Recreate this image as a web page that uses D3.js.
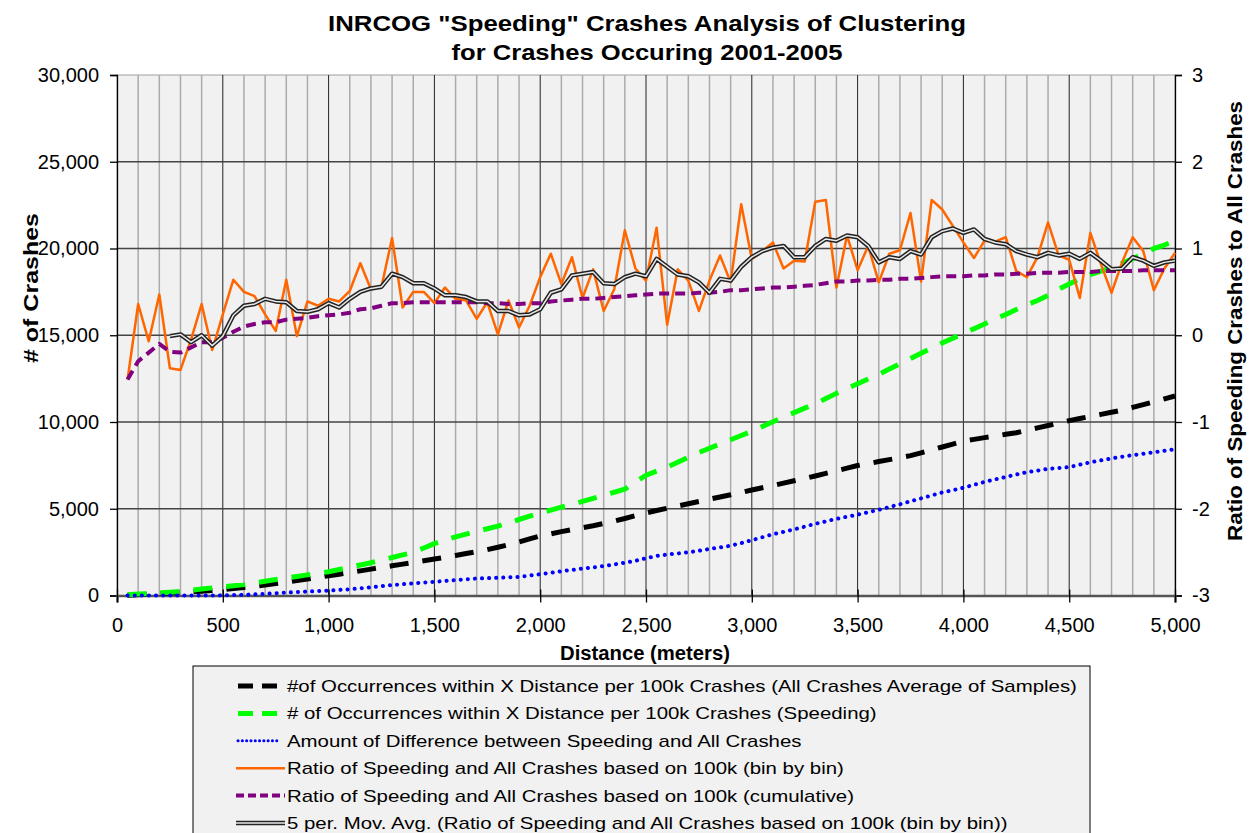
<!DOCTYPE html>
<html>
<head>
<meta charset="utf-8">
<script src="https://cdn.jsdelivr.net/npm/d3@7"></script>
<style>
  body{margin:0;background:#fff;}
  svg{display:block;font-family:"Liberation Sans",Arial,sans-serif;}
</style>
</head>
<body>
<svg id="chart" width="1250" height="833"></svg>
<script>
const distance=[50,100,150,200,250,300,350,400,450,500,550,600,650,700,750,800,850,900,950,1000,
1050,1100,1150,1200,1250,1300,1350,1400,1450,1500,1550,1600,1650,1700,1750,1800,1850,1900,1950,2000,
2050,2100,2150,2200,2250,2300,2350,2400,2450,2500,2550,2600,2650,2700,2750,2800,2850,2900,2950,3000,
3050,3100,3150,3200,3250,3300,3350,3400,3450,3500,3550,3600,3650,3700,3750,3800,3850,3900,3950,4000,
4050,4100,4150,4200,4250,4300,4350,4400,4450,4500,4550,4600,4650,4700,4750,4800,4850,4900,4950,5000]

// left axis series (# of crashes)
const allcrashes=[20,50,80,110,140,170,200,240,290,340,400,460,530,610,690,770,860,950,1040,1140,
1230,1330,1420,1520,1620,1710,1810,1900,2000,2100,2200,2310,2420,2530,2640,2780,2930,3090,3260,3430,
3550,3680,3800,3910,4020,4150,4290,4440,4600,4760,4900,5030,5160,5290,5420,5550,5680,5810,5940,6080,
6210,6340,6480,6610,6740,6890,7040,7190,7340,7490,7600,7720,7830,7940,8060,8220,8390,8560,8730,8900,
9000,9100,9190,9290,9380,9520,9660,9800,9940,10080,10200,10320,10440,10560,10680,10840,11000,11160,11330,11500]
const speeding=[40,80,110,150,190,240,300,370,440,500,560,630,720,820,920,1010,1100,1190,1280,1370,
1500,1630,1760,1890,2040,2190,2340,2490,2740,2990,3190,3380,3540,3700,3850,4000,4190,4380,4570,4760,
4920,5090,5250,5420,5600,5780,5950,6130,6530,6930,7170,7400,7680,7960,8240,8490,8730,8980,9220,9470,
9740,10010,10280,10540,10800,11050,11350,11650,11930,12200,12480,12750,13050,13350,13660,13960,14260,14560,14830,15100,
15380,15650,15930,16200,16480,16750,17000,17300,17650,17950,18250,18500,18700,18900,19150,19400,19700,20000,20200,20450]
const difference=[0,0,0,0,0,0,0,0,0,10,25,40,65,95,130,170,200,230,255,280,
320,360,415,470,535,600,650,700,745,790,840,890,935,980,1000,1020,1050,1075,1150,1230,
1310,1400,1470,1550,1620,1700,1790,1890,2000,2150,2280,2360,2420,2490,2580,2680,2770,2870,3020,3190,
3360,3530,3670,3810,3970,4130,4270,4420,4540,4660,4800,4940,5100,5260,5430,5600,5770,5940,6070,6210,
6380,6550,6690,6830,6970,7110,7200,7300,7350,7400,7540,7680,7790,7900,8000,8090,8170,8250,8340,8430]

// right axis series (ratio)
const ratio=[-0.51,0.36,-0.07,0.47,-0.38,-0.40,-0.05,0.36,-0.17,0.24,0.64,0.50,0.45,0.24,0.05,0.64,-0.01,0.39,0.34,0.42,
0.39,0.51,0.83,0.53,0.56,1.12,0.32,0.50,0.50,0.37,0.55,0.42,0.40,0.19,0.38,0.01,0.40,0.09,0.34,0.67,
0.94,0.59,0.90,0.43,0.76,0.28,0.53,1.21,0.77,0.63,1.24,0.12,0.76,0.63,0.28,0.63,0.92,0.61,1.51,0.88,
0.97,1.07,0.77,0.86,0.85,1.54,1.56,0.55,1.15,0.75,1.03,0.61,0.94,0.98,1.41,0.62,1.56,1.45,1.26,1.07,
0.89,1.09,1.08,1.13,0.74,0.67,0.90,1.30,0.92,0.87,0.43,1.18,0.82,0.49,0.84,1.13,0.97,0.52,0.77,0.95]
const cumulative=[-0.51,-0.30,-0.20,-0.10,-0.19,-0.20,-0.14,-0.08,-0.08,-0.03,0.04,0.10,0.13,0.15,0.15,0.18,0.19,0.20,0.22,0.23,
0.24,0.26,0.30,0.31,0.34,0.37,0.37,0.38,0.38,0.38,0.38,0.38,0.38,0.38,0.37,0.37,0.36,0.36,0.37,0.37,
0.39,0.40,0.41,0.42,0.42,0.43,0.44,0.45,0.46,0.47,0.48,0.48,0.48,0.48,0.49,0.49,0.50,0.52,0.52,0.53,
0.54,0.55,0.55,0.56,0.57,0.58,0.60,0.62,0.62,0.63,0.63,0.64,0.64,0.65,0.65,0.66,0.67,0.68,0.68,0.68,
0.69,0.69,0.70,0.70,0.71,0.71,0.72,0.72,0.72,0.73,0.73,0.73,0.74,0.74,0.74,0.74,0.75,0.75,0.75,0.75]
const movavg=[null,null,null,null,-0.01,0.01,-0.08,0.00,-0.12,-0.01,0.23,0.34,0.36,0.42,0.39,0.38,0.28,0.27,0.30,0.37,
0.32,0.42,0.50,0.54,0.56,0.71,0.67,0.60,0.60,0.54,0.46,0.46,0.44,0.39,0.39,0.28,0.28,0.23,0.24,0.30,
0.49,0.53,0.69,0.71,0.73,0.60,0.59,0.67,0.71,0.68,0.88,0.79,0.70,0.68,0.61,0.49,0.65,0.63,0.79,0.90,
0.97,1.01,1.03,0.90,0.90,1.03,1.11,1.09,1.15,1.13,1.03,0.84,0.90,0.88,0.97,0.93,1.13,1.20,1.23,1.18,
1.22,1.11,1.07,1.05,0.97,0.93,0.90,0.95,0.92,0.94,0.88,0.95,0.86,0.76,0.77,0.90,0.86,0.80,0.84,0.86]

const lefttick=[0,5000,10000,15000,20000,25000,30000]
const righttick=[-3,-2,-1,0,1,2,3]
const xtick=[0,500,1000,1500,2000,2500,3000,3500,4000,4500,5000]
const minorgrid=[100,200,300,400,600,700,800,900,1100,1200,1300,1400,1600,1700,1800,1900,2100,2200,2300,2400,
2600,2700,2800,2900,3100,3200,3300,3400,3600,3700,3800,3900,4100,4200,4300,4400,4600,4700,4800,4900]
const titles=['INRCOG "Speeding" Crashes Analysis of Clustering','for Crashes Occuring 2001-2005']
const legend=[
  "#of Occurrences within X Distance per 100k Crashes (All Crashes Average of Samples)",
  "# of Occurrences within X Distance per 100k Crashes (Speeding)",
  "Amount of Difference between Speeding and All Crashes",
  "Ratio of Speeding and All Crashes based on 100k (bin by bin)",
  "Ratio of Speeding and All Crashes based on 100k (cumulative)",
  "5 per. Mov. Avg. (Ratio of Speeding and All Crashes based on 100k (bin by bin))"
]

const pleft=117,pright=1175,ptop=75,pbottom=595.5
const x=d3.scaleLinear().domain([0,5000]).range([pleft,pright])
const yl=d3.scaleLinear().domain([0,30000]).range([pbottom,ptop])
const yr=d3.scaleLinear().domain([-3,3]).range([pbottom,ptop])

const svg=d3.select("#chart")

// title
svg.selectAll(".title")
  .data(titles)
  .enter()
  .append("text")
  .attr("class","title")
  .attr("x",647)
  .attr("y",(d,i)=>31+i*29)
  .attr("text-anchor","middle")
  .attr("textLength",(d,i)=>i===0?638:391)
  .attr("lengthAdjust","spacingAndGlyphs")
  .style("font-size","22px")
  .style("font-weight","bold")
  .text(d=>d)

// plot background + grid
svg.append("rect")
  .attr("x",pleft).attr("y",ptop)
  .attr("width",pright-pleft).attr("height",pbottom-ptop)
  .attr("fill","#f1f1f1")
  .attr("stroke","#a0a0a0")

svg.selectAll(".minor")
  .data(minorgrid)
  .enter()
  .append("line")
  .attr("x1",d=>x(d)).attr("x2",d=>x(d))
  .attr("y1",ptop).attr("y2",pbottom)
  .attr("stroke","#ababab")
  .attr("stroke-width",1.5)
svg.selectAll(".major")
  .data(xtick.slice(1,-1))
  .enter()
  .append("line")
  .attr("x1",d=>x(d)).attr("x2",d=>x(d))
  .attr("y1",ptop).attr("y2",pbottom)
  .attr("stroke","#222")
  .attr("stroke-width",1)
svg.selectAll(".hgrid")
  .data(lefttick.slice(1,-1))
  .enter()
  .append("line")
  .attr("x1",pleft).attr("x2",pright)
  .attr("y1",d=>yl(d)).attr("y2",d=>yl(d))
  .attr("stroke","#444")
  .attr("stroke-width",1.3)

// axes
const fmt=d3.format(",")
const yaxisl=svg.append("g")
  .attr("transform",`translate(${pleft},0)`)
  .call(d3.axisLeft(yl).tickValues(lefttick).tickFormat(fmt).tickSize(7).tickPadding(11))
const yaxisr=svg.append("g")
  .attr("transform",`translate(${pright},0)`)
  .call(d3.axisRight(yr).tickValues(righttick).tickFormat(d=>String(d)).tickSize(7).tickPadding(10))
const xaxis=svg.append("g")
  .attr("transform",`translate(0,${pbottom})`)
  .call(d3.axisBottom(x).tickValues(xtick).tickFormat(fmt).tickSize(7).tickPadding(15))
xaxis.selectAll(".tick line").attr("y1",-6)
xaxis.select(".domain").attr("stroke","#555").attr("stroke-width",2.5)
;[yaxisl,yaxisr,xaxis].forEach(g=>{
  g.selectAll("text").style("font-size","20px").attr("fill","#000")
  g.selectAll(".tick line").attr("stroke","#000").attr("stroke-width",1.3)
})
yaxisl.select(".domain").attr("stroke","#000").attr("stroke-width",1.3)
yaxisr.select(".domain").attr("stroke","#000").attr("stroke-width",1.3)

// axis titles
svg.append("text")
  .attr("transform","translate(38,288) rotate(-90)")
  .attr("text-anchor","middle")
  .attr("textLength",150).attr("lengthAdjust","spacingAndGlyphs")
  .style("font-size","20px").style("font-weight","bold")
  .text("# of Crashes")
svg.append("text")
  .attr("transform","translate(1242,321) rotate(-90)")
  .attr("text-anchor","middle")
  .attr("textLength",440).attr("lengthAdjust","spacingAndGlyphs")
  .style("font-size","20px").style("font-weight","bold")
  .text("Ratio of Speeding Crashes to All Crashes")
svg.append("text")
  .attr("x",645).attr("y",660)
  .attr("text-anchor","middle")
  .attr("textLength",170).attr("lengthAdjust","spacingAndGlyphs")
  .style("font-size","20px").style("font-weight","bold")
  .text("Distance (meters)")

// lines
const linel=d3.line().x((d,i)=>x(distance[i])).y(d=>yl(d))
const liner=d3.line().defined(d=>d!==null).x((d,i)=>x(distance[i])).y(d=>yr(d))
const plot=svg.append("g").attr("fill","none").attr("stroke-linejoin","round")

plot.append("path").datum(allcrashes)
  .attr("d",linel).attr("stroke","#000").attr("stroke-width",5).attr("stroke-dasharray","19,14")
plot.append("path").datum(speeding)
  .attr("d",linel).attr("stroke","#00ff00").attr("stroke-width",5).attr("stroke-dasharray","19,14")
plot.append("path").datum(difference)
  .attr("d",linel).attr("stroke","#0000ff").attr("stroke-width",4).attr("stroke-linecap","round").attr("stroke-dasharray","0.1,7")
plot.append("path").datum(ratio)
  .attr("d",liner).attr("stroke","#ff6600").attr("stroke-width",2.5)
plot.append("path").datum(cumulative)
  .attr("d",liner).attr("stroke","#800080").attr("stroke-width",4).attr("stroke-dasharray","10,6")
plot.append("path").datum(movavg)
  .attr("d",liner).attr("stroke","#222").attr("stroke-width",4.5)
plot.append("path").datum(movavg)
  .attr("d",liner).attr("stroke","#e8e8e8").attr("stroke-width",1.5)

// legend
const lg=svg.append("g")
lg.append("rect")
  .attr("x",193).attr("y",666).attr("width",897).attr("height",180)
  .attr("fill","#f1f1f1").attr("stroke","#000").attr("stroke-width",1)
const swatch=[
  {c:"#000",w:5,dash:"15,9"},
  {c:"#00ff00",w:5,dash:"15,9"},
  {c:"#0000ff",w:3,dash:"0.1,4.2",cap:"round"},
  {c:"#ff6600",w:2.5,dash:null},
  {c:"#800080",w:4,dash:"8,4"},
  {c:"#222",w:4.5,dash:null}
]
const rows=lg.selectAll(".row")
  .data(legend)
  .enter()
  .append("g")
  .attr("transform",(d,i)=>`translate(0,${686+i*27.4})`)
rows.append("line")
  .attr("x1",(d,i)=>i<3?238:236).attr("x2",(d,i)=>i<3?278:285)
  .attr("stroke",(d,i)=>swatch[i].c)
  .attr("stroke-width",(d,i)=>swatch[i].w)
  .attr("stroke-dasharray",(d,i)=>swatch[i].dash)
  .attr("stroke-linecap",(d,i)=>swatch[i].cap||"butt")
rows.filter((d,i)=>i===5).append("line")
  .attr("x1",236).attr("x2",285)
  .attr("stroke","#e8e8e8").attr("stroke-width",1.5)
rows.append("text")
  .attr("x",287).attr("y",6)
  .style("font-size","17px")
  .text(d=>d)
  .each(function(){
    // reference legend type is set wider than Liberation Sans
    const w=this.getComputedTextLength()
    d3.select(this).attr("textLength",w*1.2).attr("lengthAdjust","spacingAndGlyphs")
  })
</script>
</body>
</html>
